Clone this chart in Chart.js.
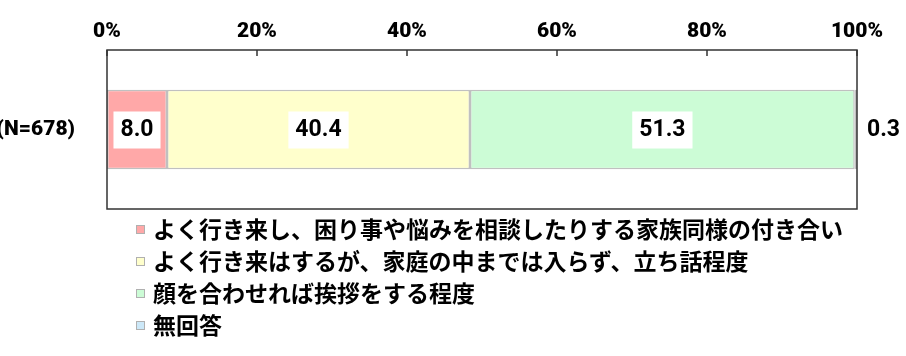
<!DOCTYPE html>
<html>
<head>
<meta charset="utf-8">
<script src="https://cdn.jsdelivr.net/npm/chart.js@4.4.1/dist/chart.umd.min.js"></script>
<style>
    body { margin: 0; background: #fff; }
    #wrap { position: relative; width: 906px; height: 356px; }
    #legend { position: absolute; left: 136px; top: 212px; font: bold 23px "Noto Sans CJK JP", sans-serif; line-height: 32px; color: #000; }
    #legend div { white-space: nowrap; }
    #legend span { display: inline-block; width: 7px; height: 7px; border: 1px solid #b0b0b0; margin-right: 8px; vertical-align: 4px; }
</style>
</head>
<body>
<div id="wrap">
    <canvas id="graph" width="906" height="356"></canvas>
    <div id="legend"></div>
</div>
<script>

/* chart data */
const categories = ["(N=678)"]
const seriesNames = [
    "よく行き来し、困り事や悩みを相談したりする家族同様の付き合い",
    "よく行き来はするが、家庭の中までは入らず、立ち話程度",
    "顔を合わせれば挨拶をする程度",
    "無回答"
]
const values = [8.0, 40.4, 51.3, 0.3]
const xTicks = [0, 20, 40, 60, 80, 100]

const fills = ["#ffa8a8", "#ffffcc", "#ccfcd6", "#cce8f8"]

const axisFont = { family : "Roboto", size : 21, weight : "900" }


const datasets = seriesNames.map((name, i) => ({
    label : name,
    data : [values[i]],
    backgroundColor : fills[i],
    borderColor : "#c0c0c0",
    borderWidth : 1.5,
    borderSkipped : false,
    categoryPercentage : 1,
    barPercentage : 0.5
}))


/* frame + inward ticks, like the original */
const framePlugin = {
    id : "frame",
    afterDatasetsDraw(chart) {
        const { ctx, chartArea : a, scales } = chart
        ctx.save()
        ctx.strokeStyle = "#333"
        ctx.lineWidth = 1.5
        ctx.strokeRect(a.left, a.top, a.right - a.left, a.bottom - a.top)
        ctx.beginPath()
        for (const t of xTicks) {
            const x = scales.x.getPixelForValue(t)
            ctx.moveTo(x, a.top)
            ctx.lineTo(x, a.top + 6)
        }
        ctx.stroke()
        ctx.restore()
    }
}


/* value labels in white boxes */
const labelPlugin = {
    id : "valueLabels",
    afterDatasetsDraw(chart) {
        const { ctx, chartArea : a } = chart
        ctx.save()
        ctx.font = "bold 23px Roboto"
        ctx.textBaseline = "middle"
        chart.data.datasets.forEach((ds, i) => {
            const el = chart.getDatasetMeta(i).data[0]
            const txt = ds.data[0].toFixed(1)
            const w = ctx.measureText(txt).width
            if (ds.data[0] < 3) {
                ctx.fillStyle = "#000"
                ctx.textAlign = "left"
                ctx.fillText(txt, a.right + 10, el.y + 1)
                return
            }
            const cx = (el.x + el.base) / 2
            ctx.fillStyle = "#fff"
            ctx.fillRect(cx - w / 2 - 7, el.y - 18, w + 14, 37)
            ctx.fillStyle = "#000"
            ctx.textAlign = "center"
            ctx.fillText(txt, cx, el.y + 1)
        })
        ctx.restore()
    }
}


new Chart(document.querySelector("#graph"), {
    type : "bar",
    data : { labels : categories, datasets : datasets },
    options : {
        indexAxis : "y",
        responsive : false,
        animation : false,
        layout : { padding : { top : 0, right : 49, bottom : 147, left : 0 } },
        plugins : { legend : { display : false }, tooltip : { enabled : false } },
        scales : {
            x : {
                position : "top",
                stacked : true,
                min : 0,
                max : 100,
                afterBuildTicks : (s) => { s.ticks = xTicks.map(v => ({ value : v })) },
                afterFit : (s) => { s.height = 50 },
                grid : { display : false },
                border : { display : false },
                ticks : {
                    padding : -2,
                    color : "#000",
                    font : axisFont,
                    callback : (v) => v + "%"
                }
            },
            y : {
                stacked : true,
                afterFit : (s) => { s.width = 107 },
                grid : { display : false },
                border : { display : false },
                ticks : {
                    padding : 24,
                    color : "#000",
                    font : axisFont
                }
            }
        }
    },
    plugins : [framePlugin, labelPlugin]
})


/* legend, one row per series */
const legend = document.querySelector("#legend")
legend.innerHTML = seriesNames.map((name, i) =>
    `<div><span style="background:${fills[i]}"></span>${name}</div>`
).join("")

</script>
</body>
</html>
